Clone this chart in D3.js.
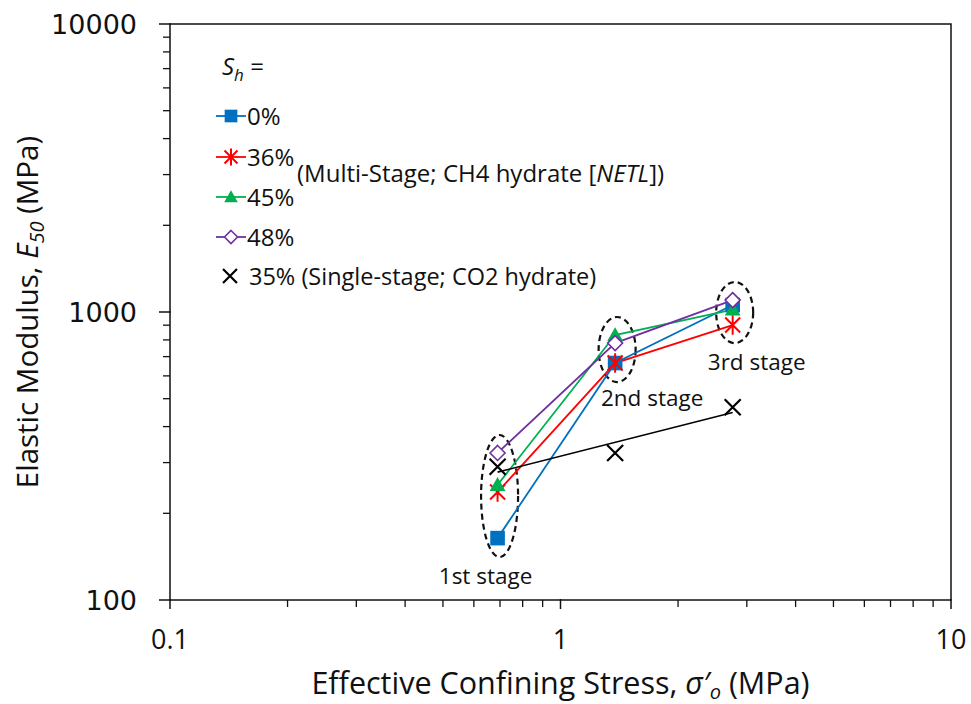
<!DOCTYPE html>
<html>
<head>
<meta charset="utf-8">
<script src="https://cdn.jsdelivr.net/npm/d3@7"></script>
<style>
  body { margin: 0; background: #fff; }
  text { font-family: "Open Sans", sans-serif; fill: #111; }
</style>
</head>
<body>
<svg id="chart" width="971" height="704"></svg>
<script>
// effective confining stress of each stage (MPa)
const stress = [0.69, 1.38, 2.76];
// E50 (MPa) per hydrate saturation
const sh0 = [164, 665, 1057];
const sh36 = [237, 665, 901];
const sh45 = [251, 832, 1020];
const sh48 = [324, 780, 1100];
const co2 = [290, 324, 467];

const seriesNames = ["0%", "36%", "45%", "48%"];
const co2Name = "35% (Single-stage; CO2 hydrate)";
const xTicks = [0.1, 1, 10];
const yTicks = [100, 1000, 10000];

// stage groupings: E50 range enclosed by each ellipse
const stageNames = ["1st stage", "2nd stage", "3rd stage"];
const stageLo = [141, 571, 780];
const stageHi = [374, 961, 1271];

const colors = ["#0070C0", "#FF0000", "#00B050", "#7030A0"];
const symbolsFor = ["square", "star", "triangle", "diamond"];

const svg = d3.select("#chart");
const margin = { left: 170, right: 20, top: 24, bottom: 104 };
const W = 971, H = 704;

const x = d3.scaleLog().domain([0.1, 10]).range([margin.left, W - margin.right]);
const y = d3.scaleLog().domain([100, 10000]).range([H - margin.bottom, margin.top]);

// frame
svg.append("rect")
  .attr("x", x(0.1)).attr("y", y(10000))
  .attr("width", x(10) - x(0.1)).attr("height", y(100) - y(10000))
  .attr("fill", "none").attr("stroke", "#111").attr("stroke-width", 1.5);

// minor ticks (2..9 inside each decade)
function minors(lo, hi) {
  let out = [];
  for (let d = lo; d < hi; d *= 10) for (let k = 2; k <= 9; k++) out.push(d * k);
  return out;
}

const xAxis = svg.append("g").attr("transform", `translate(0,${y(100)})`);
xAxis.selectAll(".minor").data(minors(0.1, 10)).join("line")
  .attr("x1", (d) => x(d)).attr("x2", (d) => x(d))
  .attr("y1", 0).attr("y2", 7).attr("stroke", "#111").attr("stroke-width", 1.3);
xAxis.selectAll(".major").data(xTicks).join("line")
  .attr("x1", (d) => x(d)).attr("x2", (d) => x(d))
  .attr("y1", -1).attr("y2", 9).attr("stroke", "#111").attr("stroke-width", 1.5);
xAxis.selectAll("text").data(xTicks).join("text")
  .attr("x", (d) => x(d)).attr("y", 49)
  .attr("text-anchor", "middle").attr("font-size", 27)
  .text((d) => d);

const yAxis = svg.append("g").attr("transform", `translate(${x(0.1)},0)`);
yAxis.selectAll(".minor").data(minors(100, 10000)).join("line")
  .attr("x1", -7).attr("x2", 0)
  .attr("y1", (d) => y(d)).attr("y2", (d) => y(d)).attr("stroke", "#111").attr("stroke-width", 1.3);
yAxis.selectAll(".major").data(yTicks).join("line")
  .attr("x1", -11).attr("x2", 1)
  .attr("y1", (d) => y(d)).attr("y2", (d) => y(d)).attr("stroke", "#111").attr("stroke-width", 1.5);
yAxis.selectAll("text").data(yTicks).join("text")
  .attr("x", -33).attr("y", (d) => y(d) + 10)
  .attr("text-anchor", "end").attr("font-size", 27)
  .style("font-family", "'DejaVu Sans', sans-serif")
  .text((d) => d);

// axis titles
const xt = svg.append("text")
  .attr("x", (x(0.1) + x(10)) / 2).attr("y", 694)
  .attr("text-anchor", "middle").attr("font-size", 30.5);
xt.append("tspan").text("Effective Confining Stress, ");
xt.append("tspan").attr("font-style", "italic").text("σ′");
xt.append("tspan").attr("font-style", "italic").attr("font-size", 20).attr("dy", 5).text("o");
xt.append("tspan").attr("dy", -5).text(" (MPa)");

const yt = svg.append("text")
  .attr("transform", `translate(38,${(y(100) + y(10000)) / 2}) rotate(-90)`)
  .attr("text-anchor", "middle").attr("font-size", 29.5);
yt.append("tspan").text("Elastic Modulus, ");
yt.append("tspan").attr("font-style", "italic").text("E");
yt.append("tspan").attr("font-style", "italic").attr("font-size", 20).attr("dy", 6).text("50");
yt.append("tspan").attr("dy", -6).text(" (MPa)");

// marker shapes
function markerPath(kind, s) {
  if (kind === "star") {
    return `M${-s},${-s}L${s},${s}M${-s},${s}L${s},${-s}M0,${-s * 1.3}L0,${s * 1.3}`;
  }
  if (kind === "cross") {
    return `M${-s},${-s}L${s},${s}M${-s},${s}L${s},${-s}`;
  }
  if (kind === "diamond") {
    return `M0,${-s}L${s},0L0,${s}L${-s},0Z`;
  }
  if (kind === "triangle") {
    return `M0,${-s * 1.05}L${s * 1.05},${s * 0.8}L${-s * 1.05},${s * 0.8}Z`;
  }
  return d3.symbol(d3.symbolSquare, s * s * 3.8)();
}
function drawMarker(g, kind, color, cx, cy, s) {
  const p = g.append("path").attr("d", markerPath(kind, s))
    .attr("transform", `translate(${cx},${cy})`);
  if (kind === "star" || kind === "cross") {
    p.attr("fill", "none").attr("stroke", color).attr("stroke-width", kind === "cross" ? 2.2 : 2);
  } else if (kind === "diamond") {
    p.attr("fill", "#fff").attr("stroke", color).attr("stroke-width", 1.6);
  } else {
    p.attr("fill", color);
  }
}

// stage ellipses
const stageG = svg.append("g");
stageNames.forEach((name, i) => {
  const cx = x(stress[i]) + 2;
  const top = y(stageHi[i]), bot = y(stageLo[i]);
  stageG.append("ellipse")
    .attr("cx", cx).attr("cy", (top + bot) / 2)
    .attr("rx", 18.5).attr("ry", (bot - top) / 2)
    .attr("fill", "none").attr("stroke", "#111").attr("stroke-width", 2.2)
    .attr("stroke-dasharray", "6,4");
});
// labels: offsets from ellipse bottom
const labelOff = [[-12, 27], [37, 24], [24, 27]];
stageNames.forEach((name, i) => {
  stageG.append("text")
    .attr("x", x(stress[i]) + labelOff[i][0]).attr("y", y(stageLo[i]) + labelOff[i][1])
    .attr("text-anchor", "middle").attr("font-size", 22.5)
    .text(name);
});

// multi-stage series
const line = d3.line().x((d) => x(d[0])).y((d) => y(d[1]));
const allSeries = [sh0, sh36, sh45, sh48];
const plotG = svg.append("g");
allSeries.forEach((vals, i) => {
  const pts = stress.map((s, j) => [s, vals[j]]);
  plotG.append("path").attr("d", line(pts))
    .attr("fill", "none").attr("stroke", colors[i]).attr("stroke-width", 1.8);
});
allSeries.forEach((vals, i) => {
  stress.forEach((s, j) => drawMarker(plotG, symbolsFor[i], colors[i], x(s), y(vals[j]), 7.5));
});

// CO2 single-stage: power trendline (least squares in log-log space)
const lx = stress.map(Math.log10), ly = co2.map(Math.log10);
const mx = d3.mean(lx), my = d3.mean(ly);
const slope = d3.sum(lx.map((v, i) => (v - mx) * (ly[i] - my))) / d3.sum(lx.map((v) => (v - mx) ** 2));
const fit = (s) => Math.pow(10, my + slope * (Math.log10(s) - mx));
const ends = [stress[0], stress[stress.length - 1]];
plotG.append("path").attr("d", line(ends.map((s) => [s, fit(s)])))
  .attr("fill", "none").attr("stroke", "#000").attr("stroke-width", 1.6);
stress.forEach((s, j) => drawMarker(plotG, "cross", "#000", x(s), y(co2[j]), 8));

// legend
const leg = svg.append("g");
const sh = leg.append("text").attr("x", 222).attr("y", 75).attr("font-size", 24);
sh.append("tspan").attr("font-style", "italic").text("S");
sh.append("tspan").attr("font-style", "italic").attr("font-size", 17).attr("dy", 6).text("h");
sh.append("tspan").attr("dy", -6).text(" =");

const legY = [116, 157, 197, 237];
seriesNames.forEach((name, i) => {
  leg.append("line").attr("x1", 216).attr("x2", 246)
    .attr("y1", legY[i]).attr("y2", legY[i])
    .attr("stroke", colors[i]).attr("stroke-width", 1.8);
  drawMarker(leg, symbolsFor[i], colors[i], 231, legY[i], 6.5);
  leg.append("text").attr("x", 247).attr("y", legY[i] + 8.5)
    .attr("font-size", 24).text(name);
});
const ms = leg.append("text").attr("x", 297).attr("y", 182).attr("font-size", 24);
ms.append("tspan").text("(Multi-Stage; CH4 hydrate [");
ms.append("tspan").attr("font-style", "italic").text("NETL");
ms.append("tspan").text("])");

drawMarker(leg, "cross", "#000", 230, 276, 7);
leg.append("text").attr("x", 249).attr("y", 284.5).attr("font-size", 23.5).text(co2Name);
</script>
</body>
</html>
